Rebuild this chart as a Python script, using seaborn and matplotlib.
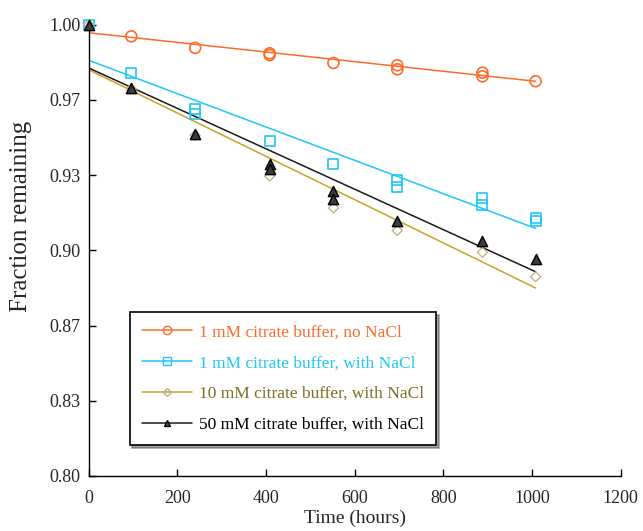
import matplotlib
matplotlib.use("Agg")
import matplotlib.pyplot as plt
from matplotlib.lines import Line2D
import seaborn as sns
import numpy as np

sns.set_style("ticks")
plt.rcParams['font.family'] = ['Liberation Serif', 'DejaVu Serif']

# Measured fraction remaining vs time (hours)
t_orange = [96, 240, 408, 408, 552, 696, 696, 888, 888, 1008]
y_orange = [0.9948, 0.9897, 0.9873, 0.9865, 0.9830, 0.9820, 0.9802, 0.9787, 0.9771, 0.9749]

t_blue = [0, 96, 240, 240, 408, 552, 696, 696, 888, 888, 1008, 1008]
y_blue = [1.000, 0.9787, 0.9627, 0.9604, 0.9485, 0.9384, 0.9311, 0.9280, 0.9231, 0.9200, 0.9145, 0.9130]

t_gold = [0, 96, 240, 408, 552, 696, 888, 1008]
y_gold = [1.000, 0.9715, 0.9510, 0.9329, 0.9188, 0.9088, 0.8991, 0.8883]

t_black = [0, 96, 240, 408, 408, 552, 552, 696, 888, 1008]
y_black = [1.000, 0.9720, 0.9515, 0.9382, 0.9360, 0.9262, 0.9226, 0.9128, 0.9042, 0.8960]

# Fitted lines (end points)
t_fit = [0, 1008]
fit_orange = [0.9964, 0.9749]
fit_blue = [0.9842, 0.9097]
fit_gold = [0.9800, 0.8833]
fit_black = [0.9808, 0.8905]

labels = ["1 mM citrate buffer, no NaCl",
          "1 mM citrate buffer, with NaCl",
          "10 mM citrate buffer, with NaCl",
          "50 mM citrate buffer, with NaCl"]

c_orange = "#FF6A2A"
c_blue = "#1EC6FA"
c_gold = "#C9A227"
c_gold_mk = "#BFAE80"
c_black = "#1A1A1A"

fig = plt.figure(figsize=(6.43, 5.31), dpi=100)
ax = fig.add_axes([0.138, 0.1036, 0.8274, 0.850])

lw = 1.1
sns.lineplot(x=t_fit, y=fit_orange, color=c_orange, lw=lw, ax=ax)
sns.lineplot(x=t_fit, y=fit_blue, color=c_blue, lw=lw, ax=ax)
sns.lineplot(x=t_fit, y=fit_gold, color=c_gold, lw=lw, ax=ax)
sns.lineplot(x=t_fit, y=fit_black, color=c_black, lw=lw, ax=ax)

sns.scatterplot(x=t_orange, y=y_orange, marker="o", s=62, facecolor="none",
                edgecolor=c_orange, linewidth=1.2, ax=ax, clip_on=False, zorder=3)
sns.scatterplot(x=t_blue, y=y_blue, marker="s", s=52, facecolor="none",
                edgecolor=c_blue, linewidth=1.2, ax=ax, clip_on=False, zorder=3)
sns.scatterplot(x=t_gold, y=y_gold, marker="D", s=26, facecolor="none",
                edgecolor=c_gold_mk, linewidth=0.9, ax=ax, clip_on=False, zorder=3)
sns.scatterplot(x=t_black, y=y_black, marker="^", s=55, facecolor="#3c3c3c",
                edgecolor="black", linewidth=1.0, ax=ax, clip_on=False, zorder=4)

ax.set_xlim(0, 1200)
ax.set_ylim(0.80, 1.00)
ax.set_xticks(np.arange(0, 1201, 200))
yt = np.linspace(0.80, 1.00, 7)
ax.set_yticks(yt)
ax.set_yticklabels([f"{v:.2f}" for v in yt])
ax.tick_params(direction="in", length=5, width=1, labelsize=13, color="black")
ax.tick_params(axis="x", pad=10)
ax.tick_params(axis="y", pad=6)
for s in ["top", "right"]:
    ax.spines[s].set_visible(False)
for s in ["left", "bottom"]:
    ax.spines[s].set_linewidth(1.0)
    ax.spines[s].set_color("black")

ax.set_xlabel("Time (hours)", fontsize=14, labelpad=2)
ax.set_ylabel("Fraction remaining", fontsize=18)
ax.yaxis.set_label_coords(-0.106, 0.576)

handles = [
    Line2D([], [], color=c_orange, lw=lw, marker="o", ms=6, mfc="none", mec=c_orange),
    Line2D([], [], color=c_blue, lw=lw, marker="s", ms=6, mfc="none", mec=c_blue),
    Line2D([], [], color=c_gold, lw=lw, marker="D", ms=4, mfc="none", mec=c_gold_mk),
    Line2D([], [], color=c_black, lw=lw, marker="^", ms=5, mfc="#4a4a4a", mec="black"),
]
leg = ax.legend(handles, labels, loc="upper left", bbox_to_anchor=(0.077, 0.363),
                fontsize=12.5, frameon=True, fancybox=False, shadow=True,
                edgecolor="black", handlelength=2.9, handletextpad=0.4,
                labelspacing=0.84, borderpad=0.7, borderaxespad=0)
leg.get_frame().set_linewidth(1.2)
for txt, col in zip(leg.get_texts(), [c_orange, c_blue, "#7F6E24", "black"]):
    txt.set_color(col)

fig.savefig("out.png", dpi=100)
